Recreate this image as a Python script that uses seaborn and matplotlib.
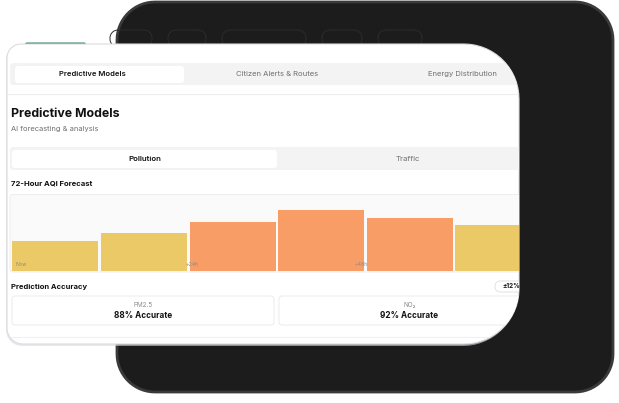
import numpy as np
import pandas as pd
import seaborn as sns
import matplotlib
matplotlib.use("Agg")
from matplotlib import pyplot as plt
from matplotlib.patches import Polygon

# Datos del grafico
horas = ["Now", "+12h", "+24h", "+36h", "+48h", "+60h"]
aqi_pct = [40, 50, 65, 80, 70, 60]
etiquetas_eje = ["Now", "+24h", "+48h", "+72h"]
tabs_top = ["Predictive Models", "Citizen Alerts & Routes", "Energy Distribution"]
tabs_sub = ["Pollution", "Traffic"]
contaminantes = ["PM2.5", "NO\u2082"]
precision = [88, 92]
margen = "\u00b112%"

AMARILLO = "#ebc967"
NARANJA = "#f89d66"
OSCURO = "#111111"
GRIS = "#6f6f6f"

sns.set_theme(style="white")
plt.rcParams["font.family"] = ["Inter", "DejaVu Sans"]

W, H = 619, 403
fig = plt.figure(figsize=(W / 100, H / 100), dpi=100)
bg = fig.add_axes([0, 0, 1, 1])
bg.set_xlim(0, W)
bg.set_ylim(H, 0)
bg.axis("off")


# Rectangulo con radios distintos por esquina (tl, tr, br, bl), y hacia abajo
def caja(x0, y0, x1, y1, r, **kw):
    pts = []
    esquinas = [
        (x0 + r[0], y0 + r[0], 180, 270, r[0]),
        (x1 - r[1], y0 + r[1], 270, 360, r[1]),
        (x1 - r[2], y1 - r[2], 0, 90, r[2]),
        (x0 + r[3], y1 - r[3], 90, 180, r[3]),
    ]
    for cx, cy, a0, a1, rr in esquinas:
        t = np.radians(np.linspace(a0, a1, 16))
        pts += list(zip(cx + rr * np.cos(t), cy + rr * np.sin(t)))
    p = Polygon(pts, closed=True, **kw)
    bg.add_patch(p)
    return p


# Marco oscuro del fondo
caja(117, 2, 613, 392, (38, 38, 38, 38), fc="#1c1c1c", ec="#3a3a3a", lw=2, zorder=1)
# Pastillas que asoman por detras de la tarjeta
for x0, x1 in [(110, 152), (168, 206), (222, 306), (322, 362), (378, 422)]:
    caja(x0, 30, x1, 47, (8, 8, 8, 8), fc="none", ec="#2c2c2c", lw=0.7, zorder=2)
caja(25, 42.5, 86, 48, (2, 2, 2, 2), fc="#2f7d6a", ec="none", zorder=2)

# Sombra y tarjeta blanca
caja(6, 46, 518, 346, (14, 55, 55, 16), fc="#d3dbe8", ec="none", alpha=0.6, zorder=3)
card = caja(7, 44, 519, 344, (14, 55, 55, 16), fc="white", ec="#dcdcdc", lw=0.8, zorder=4)

ui = []
# Barra de pestanas superior
ui.append(caja(10, 63, 560, 85, (3, 3, 3, 3), fc="#f3f3f3", ec="none", zorder=5))
ui.append(caja(15, 66, 184, 83, (3, 3, 3, 3), fc="white", ec="none", zorder=6))
ui.append(bg.plot([7, 519], [94, 94], color="#eeeeee", lw=0.8, zorder=5)[0])
for txt, cx in zip(tabs_top, [92, 277, 462]):
    es_activa = txt == tabs_top[0]
    ui.append(bg.text(cx, 74, txt, ha="center", va="center", fontsize=5.5,
                      fontweight="semibold" if es_activa else "normal",
                      color=OSCURO if es_activa else GRIS, zorder=7))

bg.text(11, 114, "Predictive Models", fontsize=8.9, fontweight="bold",
        color=OSCURO, va="center", zorder=7)
bg.text(11, 129, "AI forecasting & analysis", fontsize=5.4, color=GRIS,
        va="center", zorder=7)

# Selector Pollution / Traffic
ui.append(caja(10, 147, 560, 170, (3, 3, 3, 3), fc="#f3f3f3", ec="none", zorder=5))
ui.append(caja(12, 150, 277, 168, (3, 3, 3, 3), fc="white", ec="none", zorder=6))
for txt, cx in zip(tabs_sub, [145, 408]):
    es_activa = txt == tabs_sub[0]
    ui.append(bg.text(cx, 159, txt, ha="center", va="center", fontsize=5.6,
                      fontweight="semibold" if es_activa else "normal",
                      color=OSCURO if es_activa else GRIS, zorder=7))

bg.text(11, 184, "72-Hour AQI Forecast", fontsize=5.5, fontweight="bold",
        color=OSCURO, va="center", zorder=7)
ui.append(caja(10, 194.5, 560, 272, (3, 3, 3, 3), fc="#fafafa", ec="#ededed",
               lw=0.7, zorder=5))

# Precision del modelo
bg.text(11, 286.5, "Prediction Accuracy", fontsize=5.5, fontweight="bold",
        color=OSCURO, va="center", zorder=7)
ui.append(caja(495, 281, 545, 292, (5, 5, 5, 5), fc="white", ec="#e2e2e2",
               lw=0.7, zorder=6))
ui.append(bg.text(502, 286.5, margen, fontsize=4.6, fontweight="bold",
                  color=OSCURO, va="center", zorder=7))
for (x0, x1), nombre, val in zip([(12, 274), (279, 540)], contaminantes, precision):
    ui.append(caja(x0, 296, x1, 325, (3, 3, 3, 3), fc="white", ec="#ebebeb",
                   lw=0.7, zorder=6))
    cx = (x0 + x1) / 2
    bg.text(cx, 305, nombre, ha="center", va="center", fontsize=4.6,
            color="#8a8a8a", zorder=7)
    bg.text(cx, 315.5, f"{val}% Accurate", ha="center", va="center",
            fontsize=5.9, fontweight="bold", color=OSCURO, zorder=7)
ui.append(bg.plot([7, 519], [337, 337], color="#f0f0f0", lw=0.8, zorder=5)[0])

for a in ui:
    a.set_clip_path(card)

# Grafico de barras AQI
paso = 88.6
izq = 11
ax = fig.add_axes([izq / W, 1 - 271 / H, (519 - izq) / W, (271 - 195) / H])
df = pd.DataFrame({"hora": horas, "aqi": aqi_pct})
df["nivel"] = np.where(df["aqi"] > 60, "alto", "moderado")
sns.barplot(data=df, x="hora", y="aqi", hue="nivel", dodge=False,
            palette={"moderado": AMARILLO, "alto": NARANJA},
            width=86 / paso, saturation=1, legend=False, ax=ax)
ax.set_xlim(-0.5, -0.5 + (519 - izq) / paso)
ax.set_ylim(0, 100)
ax.axis("off")
ax.patch.set_alpha(0)
for p in ax.patches:
    p.set_edgecolor("none")
for i, txt in enumerate(etiquetas_eje):
    ax.text(16 + i * 169.5, 265, txt, transform=bg.transData, fontsize=3.8,
            color="#8c8c8c", va="center", clip_on=True, zorder=10)

fig.savefig("out.png", dpi=100)
